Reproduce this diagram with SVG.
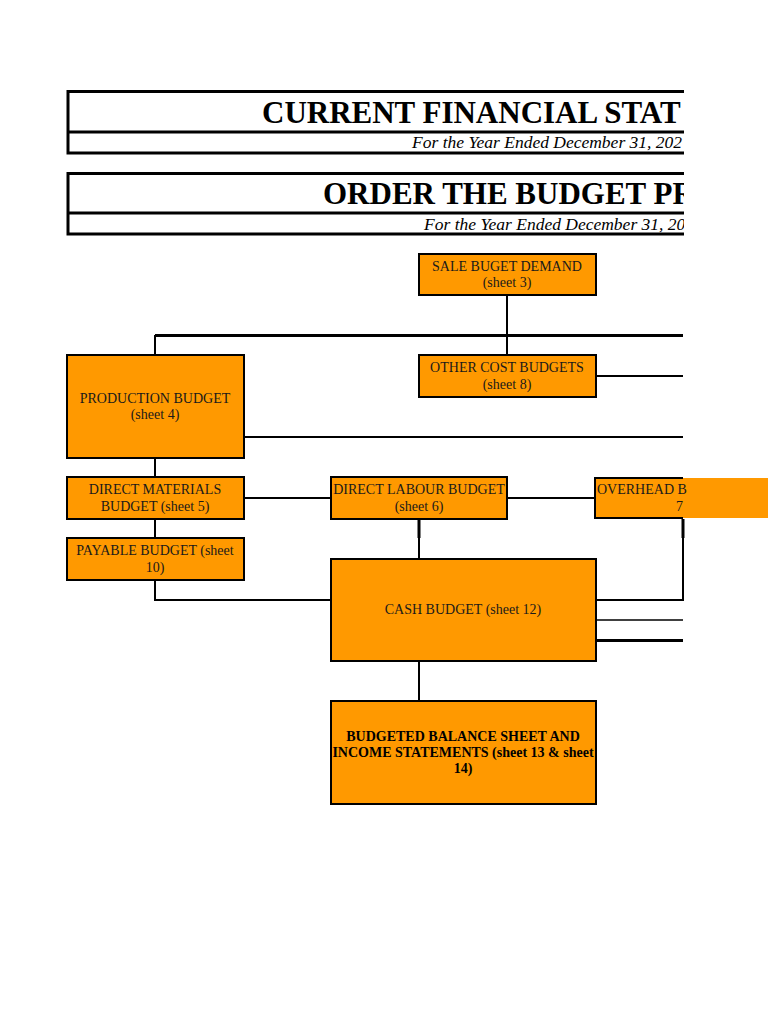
<svg xmlns="http://www.w3.org/2000/svg" width="768" height="1024" viewBox="0 0 768 1024">
<style>
.box{fill:#FF9900;stroke:#000;stroke-width:2}
.t{font-family:"Liberation Serif","Times New Roman",serif;font-size:14px;fill:#1a1a1a;text-anchor:middle}
.b{font-weight:bold;fill:#000}
.ttl{font-family:"Liberation Serif","Times New Roman",serif;font-size:31px;font-weight:bold;fill:#000}
.sub{font-family:"Liberation Serif","Times New Roman",serif;font-size:17.5px;font-style:italic;fill:#000}
.c{fill:none;stroke:#000;stroke-width:2}
.ck{fill:none;stroke:#000;stroke-width:3}
.frame{fill:none;stroke:#000;stroke-width:3}
.thin{fill:none;stroke:#000;stroke-width:1.5}
</style>
<defs>
<clipPath id="clip"><rect x="0" y="0" width="684" height="1024"/></clipPath>
</defs>
<rect width="768" height="1024" fill="#fff"/>
<g id="header1" clip-path="url(#clip)">
<path class="frame" d="M68,91.5 H684 M68,132 H684 M68,153 H684 M68,90 V154.5"/>
<text class="ttl" x="262" y="123">CURRENT FINANCIAL STAT</text>
<text class="sub" x="412" y="148">For the Year Ended December 31, 202</text>
</g>
<g id="header2" clip-path="url(#clip)">
<path class="frame" d="M68,173.5 H684 M68,213 H684 M68,234 H684 M68,172 V235.5"/>
<text class="ttl" x="323" y="204">ORDER THE BUDGET PR</text>
<text class="sub" x="424" y="230">For the Year Ended December 31, 20</text>
</g>
<g id="connectors">
<path class="c" d="M507,295 V355"/>
<path class="ck" d="M155,335.5 H683"/>
<path class="c" d="M155,335 V355"/>
<path class="c" d="M596,376 H683"/>
<path class="c" d="M244,437 H683"/>
<path class="c" d="M155,458 V477"/>
<path class="c" d="M244,498 H331"/>
<path class="c" d="M507,498 H595"/>
<path class="c" d="M155,519 V538"/>
<path class="c" d="M155,580 V600 H331"/>
<path class="ck" d="M419,519 V538"/>
<path class="c" d="M419,519 V559"/>
<path class="c" d="M596,600 H683 V519"/>
<path class="ck" d="M683,519 V538"/>
<path class="thin" d="M596,620 H683"/>
<path class="ck" d="M596,640.5 H683"/>
<path class="c" d="M419,661 V701"/>
</g>
<g id="sale">
<rect class="box" x="419" y="254" width="177" height="41"/>
<text class="t" x="507" y="271">SALE BUGET DEMAND</text>
<text class="t" x="507" y="287">(sheet 3)</text>
</g>
<g id="othercost">
<rect class="box" x="419" y="355" width="177" height="42"/>
<text class="t" x="507" y="372">OTHER COST BUDGETS</text>
<text class="t" x="507" y="389">(sheet 8)</text>
</g>
<g id="production">
<rect class="box" x="67" y="355" width="177" height="103"/>
<text class="t" x="155" y="403">PRODUCTION BUDGET</text>
<text class="t" x="155" y="419">(sheet 4)</text>
</g>
<g id="materials">
<rect class="box" x="67" y="477" width="177" height="42"/>
<text class="t" x="155" y="494">DIRECT MATERIALS</text>
<text class="t" x="155" y="511">BUDGET (sheet 5)</text>
</g>
<g id="labour">
<rect class="box" x="331" y="477" width="176" height="42"/>
<text class="t" x="419" y="494">DIRECT LABOUR BUDGET</text>
<text class="t" x="419" y="511">(sheet 6)</text>
</g>
<g id="overhead">
<rect x="595" y="478" width="173" height="40" fill="#FF9900"/>
<path class="c" d="M683,478 H595 V518 H683"/>
<text class="t" x="597" y="494" style="text-anchor:start">OVERHEAD B</text>
<text class="t" x="683" y="511" style="text-anchor:end">7</text>
</g>
<g id="payable">
<rect class="box" x="67" y="538" width="177" height="42"/>
<text class="t" x="155" y="555">PAYABLE BUDGET (sheet</text>
<text class="t" x="155" y="572">10)</text>
</g>
<g id="cash">
<rect class="box" x="331" y="559" width="265" height="102"/>
<text class="t" x="463" y="614">CASH BUDGET (sheet 12)</text>
</g>
<g id="balance">
<rect class="box" x="331" y="701" width="265" height="103"/>
<text class="t b" x="463" y="741">BUDGETED BALANCE SHEET AND</text>
<text class="t b" x="463" y="757">INCOME STATEMENTS (sheet 13 &amp; sheet</text>
<text class="t b" x="463" y="773">14)</text>
</g>
</svg>
